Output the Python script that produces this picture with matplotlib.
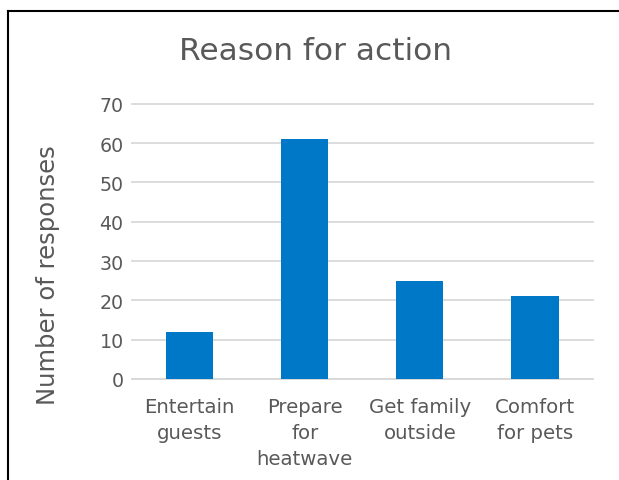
import matplotlib
matplotlib.use("Agg")
from matplotlib import pyplot as plt
from matplotlib.lines import Line2D

categories = ["Entertain\nguests", "Prepare\nfor\nheatwave", "Get family\noutside", "Comfort\nfor pets"]
responses = [12, 61, 25, 21]
y_ticks = [0, 10, 20, 30, 40, 50, 60, 70]

text_color = "#595959"
bar_color = "#0078C8"
grid_color = "#D9D9D9"

plt.rcParams["font.family"] = ["DejaVu Sans"]

fig = plt.figure(figsize=(6.19, 4.81), dpi=100)
ax = fig.add_axes([0.2133, 0.21, 0.744, 0.5723])

x = range(len(categories))
ax.bar(x, responses, width=0.41, color=bar_color, zorder=3)

ax.set_ylim(0, 70)
ax.set_xlim(-0.5, len(categories) - 0.5)
ax.set_yticks(y_ticks)
ax.set_xticks(list(x))
ax.set_xticklabels(categories, linespacing=1.47, va="top", fontsize=14.2)
ax.yaxis.grid(True, color=grid_color, linewidth=1.3, zorder=0)
for gl in ax.get_ygridlines():
    gl.set_clip_on(False)
ax.tick_params(axis="both", length=0, labelcolor=text_color)
ax.tick_params(axis="y", pad=6, labelsize=13.7)
ax.tick_params(axis="x", pad=13)
for side in ["top", "right", "left"]:
    ax.spines[side].set_visible(False)
ax.spines["bottom"].set_color(grid_color)
ax.spines["bottom"].set_linewidth(1.3)

# axis title sits a bit below the plot centre, as in the original
fig.text(0.078, 0.428, "Number of responses", color=text_color, fontsize=17.5,
         rotation=90, ha="center", va="center")
fig.text(0.509, 0.892, "Reason for action", color=text_color, fontsize=22.5,
         ha="center", va="center")

# chart frame (top and left edges visible in the crop)
fig.add_artist(Line2D([0.0137, 1.0], [0.975, 0.975], color="black", linewidth=1.5,
                      transform=fig.transFigure))
fig.add_artist(Line2D([0.0137, 0.0137], [0.0, 0.975], color="black", linewidth=1.5,
                      transform=fig.transFigure))

fig.savefig("out.png", dpi=100, facecolor="white")
